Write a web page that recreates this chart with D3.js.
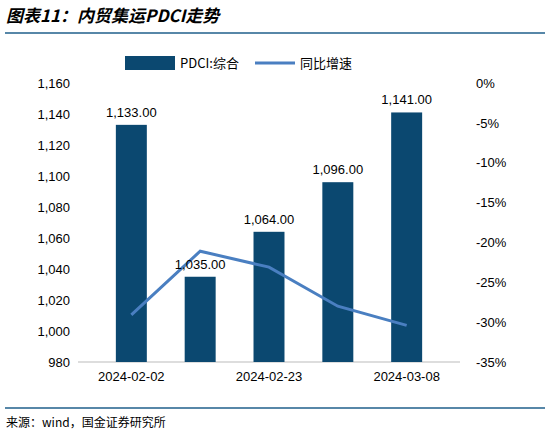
<!DOCTYPE html>
<html lang="zh">
<head>
<meta charset="UTF-8">
<script src="https://d3js.org/d3.v7.min.js"></script>
<style>
  body { margin: 0; background: #fff; font-family: Arial, "Liberation Sans", sans-serif; }
</style>
</head>
<body>
<svg id="chart" width="550" height="436"></svg>
<script>
// data
const dates = ["2024-02-02", "2024-02-09", "2024-02-23", "2024-03-01", "2024-03-08"];
const tickDates = ["2024-02-02", "2024-02-23", "2024-03-08"];
const pdci = [1133, 1035, 1064, 1096, 1141];
const yoy = [-29.1, -21.1, -23.1, -28.0, -30.4];

const svg = d3.select("#chart");
const plotL = 78, plotR = 460, plotT = 83, plotB = 362;

// title + rules
svg.append("text").attr("x", 6).attr("y", 22)
  .attr("font-family", "'Noto Sans CJK SC'").attr("font-size", 17).attr("font-weight", "bold")
  .attr("font-style", "italic").text("图表11：内贸集运PDCI走势");
svg.append("line").attr("x1", 5).attr("x2", 545).attr("y1", 33).attr("y2", 33)
  .attr("stroke", "#1f5f8b").attr("stroke-width", 1.5);
svg.append("line").attr("x1", 5).attr("x2", 545).attr("y1", 408).attr("y2", 408)
  .attr("stroke", "#1f5f8b").attr("stroke-width", 1.5);
svg.append("text").attr("x", 6).attr("y", 427)
  .attr("font-family", "'Noto Sans CJK SC'").attr("font-size", 12).text("来源：wind，国金证券研究所");

const x = d3.scaleBand().domain(dates).range([plotL, plotR]).padding(0.55);
const y = d3.scaleLinear().domain([980, 1160]).range([plotB, plotT]);
const y2 = d3.scaleLinear().domain([-35, 0]).range([plotB, plotT]);

const yAxis = svg.append("g").attr("transform", `translate(${plotL},0)`)
  .call(d3.axisLeft(y).tickValues(d3.range(980, 1161, 20)).tickSize(0).tickPadding(8).tickFormat(d3.format(",")));
const y2Axis = svg.append("g").attr("transform", `translate(${plotR},0)`)
  .call(d3.axisRight(y2).tickValues(d3.range(-35, 1, 5)).tickSize(0).tickPadding(16).tickFormat(d => d + "%"));
const xAxis = svg.append("g").attr("transform", `translate(0,${plotB})`)
  .call(d3.axisBottom(x).tickValues(tickDates).tickSize(0).tickPadding(10));
[yAxis, y2Axis, xAxis].forEach(g => {
  g.select(".domain").remove();
  g.selectAll("text").attr("font-size", 13).attr("fill", "#000").attr("font-family", "Arial, 'Liberation Sans'");
});
svg.append("line").attr("x1", plotL).attr("x2", plotR).attr("y1", plotB).attr("y2", plotB)
  .attr("stroke", "#bbb");

svg.selectAll("rect.bar").data(pdci).join("rect").attr("class", "bar")
  .attr("x", (d, i) => x(dates[i])).attr("width", x.bandwidth())
  .attr("y", d => y(d)).attr("height", d => plotB - y(d)).attr("fill", "#0b4870");

svg.append("path").datum(yoy)
  .attr("fill", "none").attr("stroke", "#4a7fc1").attr("stroke-width", 3)
  .attr("d", d3.line().x((d, i) => x(dates[i]) + x.bandwidth() / 2).y(d => y2(d)));

svg.selectAll("text.lab").data(pdci).join("text").attr("class", "lab")
  .attr("x", (d, i) => x(dates[i]) + x.bandwidth() / 2).attr("y", d => y(d) - 8)
  .attr("text-anchor", "middle").attr("font-size", 13).text(d => d3.format(",.2f")(d));

// legend
svg.append("rect").attr("x", 125).attr("y", 56).attr("width", 50).attr("height", 14).attr("fill", "#0b4870");
svg.append("text").attr("x", 180).attr("y", 68).attr("font-size", 13)
  .attr("font-family", "'Noto Sans CJK SC'").text("PDCI:综合");
svg.append("line").attr("x1", 255).attr("x2", 295).attr("y1", 63).attr("y2", 63)
  .attr("stroke", "#4a7fc1").attr("stroke-width", 3);
svg.append("text").attr("x", 300).attr("y", 68).attr("font-size", 13)
  .attr("font-family", "'Noto Sans CJK SC'").text("同比增速");
</script>
</body>
</html>
